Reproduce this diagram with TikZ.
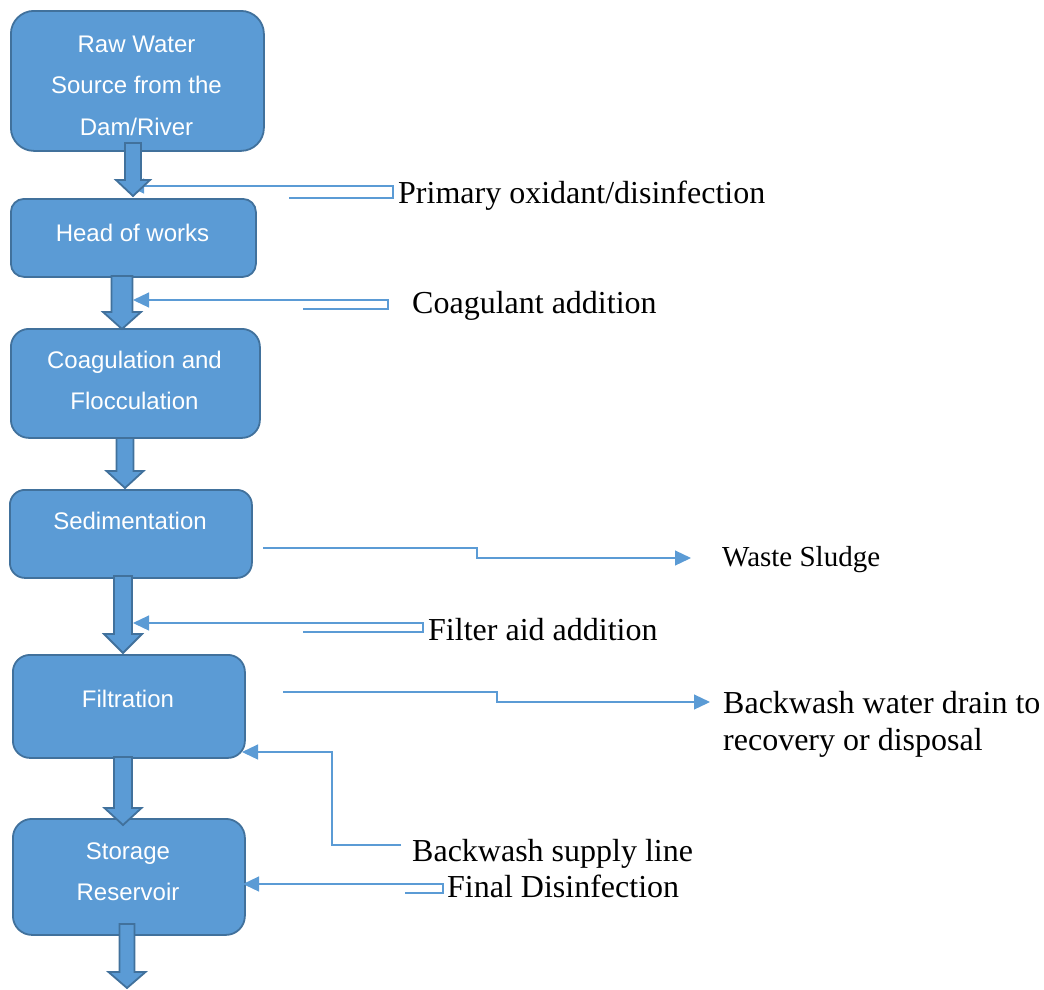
\documentclass[tikz,border=0pt]{standalone}
\usepackage{fontspec}
\setmainfont{Liberation Serif}
\setsansfont{Liberation Sans}
\usetikzlibrary{arrows.meta}

\definecolor{boxfill}{HTML}{5B9BD5}
\definecolor{boxline}{HTML}{41719C}
\definecolor{feedline}{HTML}{5B9BD5}

\tikzset{
  stage/.style={draw=boxline, line width=1.8pt, fill=boxfill, anchor=north west, inner sep=0pt},
  stagetext/.style={text=white, font=\sffamily\fontsize{24}{41.5}\selectfont, anchor=base, inner sep=0pt},
  flow/.style={draw=boxline, line width=1.8pt, fill=boxfill, line join=miter},
  feed/.style={draw=feedline, line width=1.2pt, -{Triangle[length=16pt,width=15pt]}},
  note/.style={font=\fontsize{32}{37}\selectfont, anchor=base west, inner sep=0pt},
}

% downward block arrow: centre x, top y, head start y, tip y, shaft width, head width
\newcommand{\flowarrow}[6]{%
  \draw[flow] ({#1-#5/2},#2) -- ({#1-#5/2},#3) -- ({#1-#6/2},#3) -- (#1,#4)
    -- ({#1+#6/2},#3) -- ({#1+#5/2},#3) -- ({#1+#5/2},#2) -- cycle;}

\begin{document}
\begin{tikzpicture}[x=1pt, y=-1pt]
\useasboundingbox (0,0) rectangle (1044,989);

% process stages
\node[stage, minimum width=253pt, minimum height=140pt, rounded corners=23pt] (b1) at (10,10) {};
\node[stage, minimum width=245pt, minimum height=78pt,  rounded corners=13pt] (b2) at (10,198) {};
\node[stage, minimum width=249pt, minimum height=109pt, rounded corners=18pt] (b3) at (10,328) {};
\node[stage, minimum width=242pt, minimum height=88pt,  rounded corners=15pt] (b4) at (9,489) {};
\node[stage, minimum width=232pt, minimum height=103pt, rounded corners=17pt] (b5) at (12,654) {};
\node[stage, minimum width=232pt, minimum height=116pt, rounded corners=19pt] (b6) at (12,818) {};

\node[stagetext] (t1) at (136.5,52) {\begin{tabular}[t]{@{}c@{}}Raw Water\\Source from the\\Dam/River\end{tabular}};
\node[stagetext] (t2) at (132.5,241) {Head of works};
\node[stagetext] (t3) at (134.5,368) {\begin{tabular}[t]{@{}c@{}}Coagulation and\\Flocculation\end{tabular}};
\node[stagetext] (t4) at (130,529) {Sedimentation};
\node[stagetext] (t5) at (128,707) {Filtration};
\node[stagetext] (t6) at (128,859) {\begin{tabular}[t]{@{}c@{}}Storage\\Reservoir\end{tabular}};

% chemical feeds and side streams
\coordinate (p0) at (289,198);  \coordinate (p1) at (393,198);  \coordinate (p2) at (393,186);  \coordinate (p3) at (128,186);
\coordinate (c0) at (303,309);  \coordinate (c1) at (388,309);  \coordinate (c2) at (388,300);  \coordinate (c3) at (133,300);
\coordinate (w0) at (263,548);  \coordinate (w1) at (477,548);  \coordinate (w2) at (477,558);  \coordinate (w3) at (691,558);
\coordinate (f0) at (303,632);  \coordinate (f1) at (423,632);  \coordinate (f2) at (423,623);  \coordinate (f3) at (133,623);
\coordinate (d0) at (283,692);  \coordinate (d1) at (497,692);  \coordinate (d2) at (497,702);  \coordinate (d3) at (710,702);
\coordinate (s0) at (401,845);  \coordinate (s1) at (332,845);  \coordinate (s2) at (332,752);  \coordinate (s3) at (242,752);
\coordinate (e0) at (405,893);  \coordinate (e1) at (443,893);  \coordinate (e2) at (443,884);  \coordinate (e3) at (243,884);

\draw[feed] (p0) -- (p1) -- (p2) -- (p3);
\draw[feed] (c0) -- (c1) -- (c2) -- (c3);
\draw[feed] (w0) -- (w1) -- (w2) -- (w3);
\draw[feed] (f0) -- (f1) -- (f2) -- (f3);
\draw[feed] (d0) -- (d1) -- (d2) -- (d3);
\draw[feed] (s0) -- (s1) -- (s2) -- (s3);
\draw[feed] (e0) -- (e1) -- (e2) -- (e3);

% main flow arrows
\flowarrow{133}{143}{180}{196}{16}{34}
\flowarrow{122}{276}{312}{329}{21}{38}
\flowarrow{125}{438}{471}{488}{17}{37}
\flowarrow{123}{576}{634}{653}{18}{38}
\flowarrow{123}{757}{808}{825}{18}{37}
\flowarrow{127}{924}{972}{988}{15}{37}

% labels
\node[note] (n1) at (398,203) {Primary oxidant/disinfection};
\node[note] (n2) at (412,313) {Coagulant addition};
\node[note, font=\fontsize{29}{34}\selectfont] (n3) at (722,566) {Waste Sludge};
\node[note] (n4) at (428,640) {Filter aid addition};
\node[note] (n5) at (723,713) {\begin{tabular}[t]{@{}l@{}}Backwash water drain to\\recovery or disposal\end{tabular}};
\node[note] (n6) at (412,861) {Backwash supply line};
\node[note] (n7) at (447,897) {Final Disinfection};
\end{tikzpicture}
\end{document}
